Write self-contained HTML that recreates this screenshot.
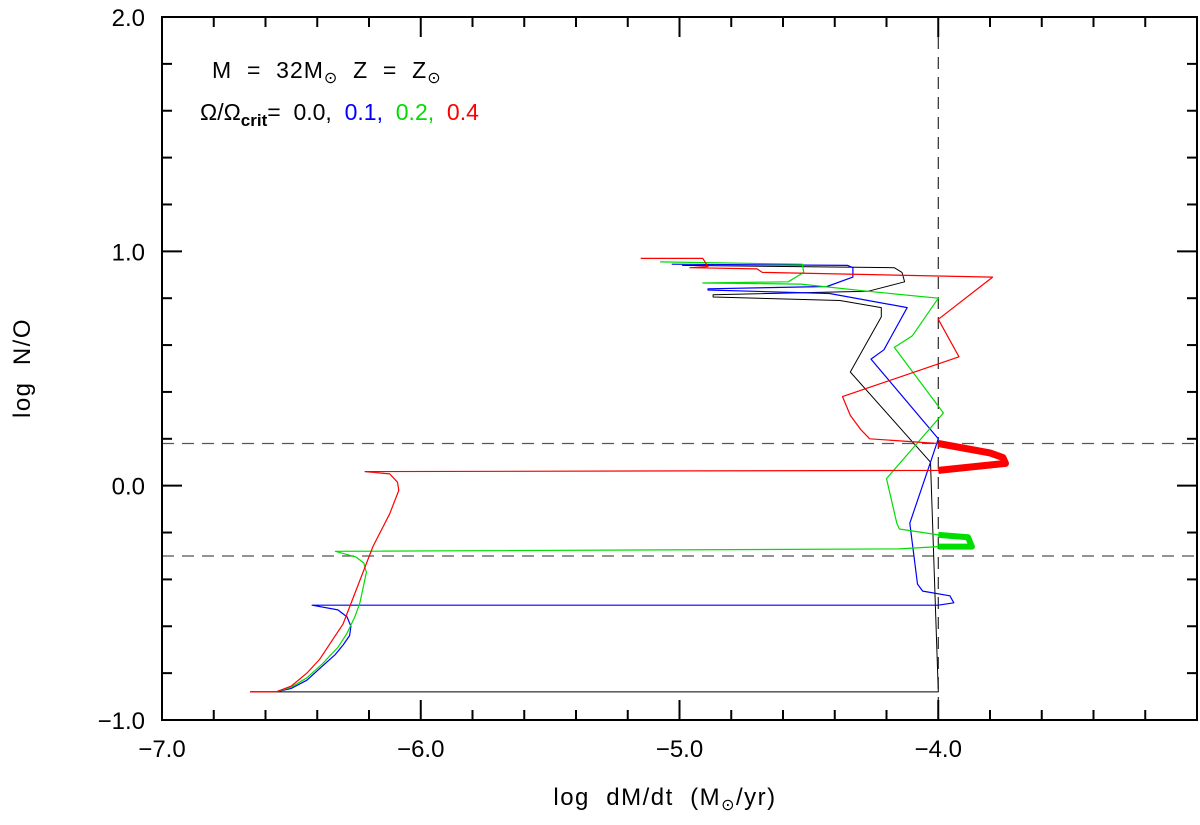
<!DOCTYPE html>
<html><head><meta charset="utf-8"><style>
body{margin:0;background:#fff}
svg text{font-family:"Liberation Sans",sans-serif;fill:#000}
</style></head><body>
<svg id="chart" width="1200" height="820" xmlns="http://www.w3.org/2000/svg">
<rect x="0" y="0" width="1200" height="820" fill="#fff"/>
<g id="dash"></g>
<g id="series"></g>
<g id="axes"></g>
<text x="212" y="78" font-size="23" letter-spacing="1" xml:space="preserve">M  =  32M<tspan font-size="16" dy="5">⊙</tspan><tspan dy="-5">  Z  =  Z</tspan><tspan font-size="16" dy="5">⊙</tspan></text>
<text x="200" y="120" font-size="23" xml:space="preserve">Ω/Ω<tspan font-size="17" dy="6" font-weight="bold">crit</tspan><tspan dy="-6">=  0.0,  </tspan><tspan style="fill:#0000ff">0.1,  </tspan><tspan style="fill:#00dd00">0.2,  </tspan><tspan style="fill:#ff0000">0.4</tspan></text>
<text x="665" y="805" font-size="24" text-anchor="middle" letter-spacing="1.5" xml:space="preserve">log  dM/dt  (M<tspan font-size="16" dy="5">⊙</tspan><tspan dy="-5">/yr)</tspan></text>
<text transform="translate(30,368) rotate(-90)" font-size="24" text-anchor="middle" letter-spacing="1.5" xml:space="preserve">log  N/O</text>
</svg>
<script>
const X0=-7,X1=-3,Y0=-1,Y1=2;
const L=162,R=1197,T=17,B=720;
function sx(v){return L+(v-X0)/(X1-X0)*(R-L);}
function sy(v){return B-(v-Y0)/(Y1-Y0)*(B-T);}
const NS="http://www.w3.org/2000/svg";
const xTickLabels=["−7.0","−6.0","−5.0","−4.0"];
const xTickValues=[-7,-6,-5,-4];
const yTickLabels=["−1.0","0.0","1.0","2.0"];
const yTickValues=[-1,0,1,2];
const refX=[-4.0];
const refY=[0.18,-0.30];
const blackX=[-6.66,-4.00,-4.03,-4.34,-4.22,-4.22,-4.38,-4.87,-4.87,-4.27,-4.13,-4.14,-4.17,-4.99];
const blackY=[-0.88,-0.88,0.10,0.485,0.72,0.76,0.79,0.805,0.815,0.83,0.87,0.91,0.93,0.94];
const blueX=[-6.66,-6.56,-6.50,-6.44,-6.38,-6.33,-6.30,-6.275,-6.27,-6.285,-6.32,-6.42,-4.00,-3.94,-3.955,-4.06,-4.08,-4.11,-4.03,-4.00,-4.26,-4.21,-4.12,-4.42,-4.89,-4.89,-4.43,-4.33,-4.33,-4.35,-5.03];
const blueY=[-0.88,-0.88,-0.865,-0.83,-0.77,-0.72,-0.68,-0.64,-0.60,-0.56,-0.53,-0.51,-0.51,-0.50,-0.47,-0.45,-0.42,-0.16,0.10,0.20,0.54,0.58,0.76,0.82,0.835,0.84,0.85,0.89,0.93,0.94,0.945];
const greenX=[-6.66,-6.56,-6.50,-6.44,-6.38,-6.32,-6.285,-6.255,-6.235,-6.21,-6.22,-6.25,-6.33,-4.15,-4.00,-3.87,-3.885,-4.00,-4.15,-4.16,-4.20,-3.98,-4.17,-4.10,-4.00,-4.275,-4.53,-4.91,-4.58,-4.52,-4.525,-5.075];
const greenY=[-0.88,-0.88,-0.86,-0.82,-0.76,-0.69,-0.63,-0.56,-0.50,-0.37,-0.33,-0.305,-0.28,-0.27,-0.26,-0.26,-0.22,-0.21,-0.185,-0.16,0.03,0.31,0.59,0.64,0.80,0.83,0.86,0.865,0.87,0.91,0.945,0.955];
const greenThickX=[-4.00,-3.87,-3.885,-4.00];
const greenThickY=[-0.26,-0.26,-0.22,-0.21];
const redX=[-6.66,-6.56,-6.50,-6.44,-6.39,-6.30,-6.185,-6.12,-6.085,-6.09,-6.12,-6.215,-4.00,-3.74,-3.75,-3.80,-4.00,-4.265,-4.30,-4.34,-4.37,-3.92,-4.00,-3.79,-4.68,-4.70,-4.96,-4.89,-4.91,-5.15];
const redY=[-0.88,-0.88,-0.855,-0.80,-0.74,-0.59,-0.26,-0.12,-0.02,0.015,0.05,0.06,0.065,0.095,0.12,0.14,0.18,0.20,0.24,0.30,0.38,0.55,0.71,0.89,0.91,0.925,0.93,0.935,0.97,0.97];
const redThickX=[-4.00,-3.74,-3.75,-3.80,-4.00];
const redThickY=[0.065,0.095,0.12,0.14,0.18];

function line(g,x1,y1,x2,y2,attrs){const l=document.createElementNS(NS,"line");l.setAttribute("x1",x1);l.setAttribute("y1",y1);l.setAttribute("x2",x2);l.setAttribute("y2",y2);for(const k in attrs)l.setAttribute(k,attrs[k]);g.appendChild(l);return l;}
function poly(g,xs,ys,color,w){const p=document.createElementNS(NS,"polyline");p.setAttribute("points",xs.map((x,i)=>sx(x).toFixed(1)+","+sy(ys[i]).toFixed(1)).join(" "));p.setAttribute("fill","none");p.setAttribute("stroke",color);p.setAttribute("stroke-width",w);p.setAttribute("stroke-linejoin","round");g.appendChild(p);return p;}

const dash=document.getElementById("dash");
refX.forEach(v=>{const l=line(dash,sx(v),T,sx(v),B,{stroke:"#000","stroke-width":1,"stroke-dasharray":"12,8"});

});
refY.forEach(v=>{const l=line(dash,L,sy(v),R,sy(v),{stroke:"#555","stroke-width":1.2,"stroke-dasharray":"12,8"});

});

const sg=document.getElementById("series");
let p;
p=poly(sg,blackX,blackY,"#000",1);


p=poly(sg,blueX,blueY,"#0000ff",1.2);


p=poly(sg,greenX,greenY,"#00dd00",1.2);


p=poly(sg,greenThickX,greenThickY,"#00dd00",6);


p=poly(sg,redX,redY,"#ff0000",1.2);


p=poly(sg,redThickX,redThickY,"#ff0000",7);



const ax=document.getElementById("axes");
const fr=document.createElementNS(NS,"rect");
fr.setAttribute("x",L);fr.setAttribute("y",T);fr.setAttribute("width",R-L);fr.setAttribute("height",B-T);
fr.setAttribute("fill","none");fr.setAttribute("stroke","#000");fr.setAttribute("stroke-width",2);


ax.appendChild(fr);
for(let i=0;i<=20;i++){const v=X0+i*0.2;const x=sx(v);const len=(i%5===0)?20:10;
line(ax,x,B,x,B-len,{stroke:"#000","stroke-width":2});line(ax,x,T,x,T+len,{stroke:"#000","stroke-width":2});}
for(let i=0;i<=15;i++){const v=Y0+i*0.2;const y=sy(v);const len=(i%5===0)?20:10;
line(ax,L,y,L+len,y,{stroke:"#000","stroke-width":2});line(ax,R,y,R-len,y,{stroke:"#000","stroke-width":2});}
xTickValues.forEach((v,i)=>{const t=document.createElementNS(NS,"text");t.setAttribute("x",sx(v));t.setAttribute("y",757);t.setAttribute("font-size","24");t.setAttribute("text-anchor","middle");t.textContent=xTickLabels[i];


ax.appendChild(t);});
yTickValues.forEach((v,i)=>{const t=document.createElementNS(NS,"text");t.setAttribute("x",145);t.setAttribute("y",sy(v)+9);t.setAttribute("font-size","24");t.setAttribute("text-anchor","end");t.textContent=yTickLabels[i];


ax.appendChild(t);});
</script>
</body></html>
